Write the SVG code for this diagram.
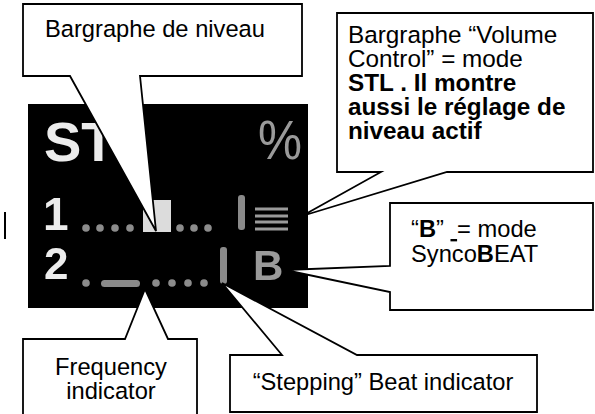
<svg xmlns="http://www.w3.org/2000/svg" width="595" height="414" viewBox="0 0 595 414">
<defs>
<style>
.co{fill:#fff;stroke:#000;stroke-width:1.8;stroke-linejoin:miter}
.t{font-family:"Liberation Sans",Arial,sans-serif;font-size:23.7px;fill:#000}
.t2{font-size:24.3px}
.b{font-weight:bold}
.lcdw{font-family:"Liberation Sans",Arial,sans-serif;font-weight:bold;fill:#ececec}
.lcdg{font-family:"Liberation Sans",Arial,sans-serif;fill:#9a9a9a}
.dot{fill:#8c8c8c}
</style>
<filter id="glow" x="-5%" y="-5%" width="110%" height="110%"><feGaussianBlur stdDeviation="0.7"/></filter>
</defs>
<rect width="595" height="414" fill="#fff"/>
<rect x="4" y="212" width="2" height="27" fill="#000"/>
<g id="lcd">
<rect x="28" y="104" width="280" height="204" fill="#000"/>
<g filter="url(#glow)">
<text class="lcdw" x="44" y="161" font-size="56">ST</text>
<text class="lcdg" x="258" y="159" font-size="56" textLength="44" lengthAdjust="spacingAndGlyphs">%</text>
<text class="lcdw" x="43" y="230" font-size="46">1</text>
<text class="lcdw" x="44" y="279" font-size="44">2</text>
<g class="dot">
<circle cx="86" cy="228" r="3.8"/><circle cx="100" cy="228" r="3.8"/><circle cx="115" cy="228" r="3.8"/><circle cx="130" cy="228" r="3.8"/>
<circle cx="180" cy="228" r="3.8"/><circle cx="194" cy="228" r="3.8"/><circle cx="208" cy="228" r="3.8"/>
<circle cx="86" cy="283" r="3.8"/><circle cx="156" cy="283" r="3.8"/><circle cx="172" cy="283" r="3.8"/><circle cx="188" cy="283" r="3.8"/><circle cx="204" cy="283" r="3.8"/>
</g>
<rect x="143" y="200" width="28" height="32" fill="#dcdcdc"/>
<rect x="238" y="195" width="7" height="35" rx="3" fill="#8a8a8a"/>
<g stroke="#9a9a9a" stroke-width="3">
<line x1="255" y1="209" x2="288" y2="209"/><line x1="255" y1="216" x2="288" y2="216"/><line x1="255" y1="222" x2="288" y2="222"/><line x1="255" y1="229" x2="288" y2="229"/>
</g>
<rect x="101" y="280" width="39" height="7" rx="3.5" fill="#8a8a8a"/>
<rect x="220" y="247" width="7" height="37" rx="3" fill="#8a8a8a"/>
<text class="lcdg" x="253" y="280" font-size="42" font-weight="bold">B</text>
</g>
</g>
<g id="callout-niveau">
<polygon class="co" points="23,4 302,4 302,76 140,76 156,231 70,76 23,76"/>
<text class="t" x="45" y="37">Bargraphe de niveau</text>
</g>
<g id="callout-volume">
<polygon class="co" points="337,13 593,13 593,172 447,172 302,216 381,172 337,172"/>
<text class="t t2" x="348" y="43">Bargraphe “Volume</text>
<text class="t t2" x="348" y="67">Control” = mode</text>
<text class="t t2 b" x="348" y="91">STL . Il montre</text>
<text class="t t2 b" x="348" y="115">aussi le réglage de</text>
<text class="t t2 b" x="348" y="139">niveau actif</text>
</g>
<g id="callout-syncobeat">
<polygon class="co" points="390,203 593,203 593,310 390,310 390,292 285,270 390,266"/>
<text class="t" x="411" y="237">“<tspan class="b">B</tspan>” <tspan text-decoration="underline">&#160;</tspan>= mode</text>
<text class="t" x="411" y="262">Synco<tspan class="b">B</tspan>EAT</text>
</g>
<g id="callout-frequency">
<polygon class="co" points="23,420 23,339 125,339 145,289 168,339 197,339 197,420"/>
<text class="t" x="111" y="375" text-anchor="middle">Frequency</text>
<text class="t" x="111" y="399" text-anchor="middle">indicator</text>
</g>
<g id="callout-stepping">
<polygon class="co" points="230,355 282,355 222,283 357,355 537,355 537,412 230,412"/>
<text class="t" x="383" y="390" text-anchor="middle">“Stepping” Beat indicator</text>
</g>
</svg>
